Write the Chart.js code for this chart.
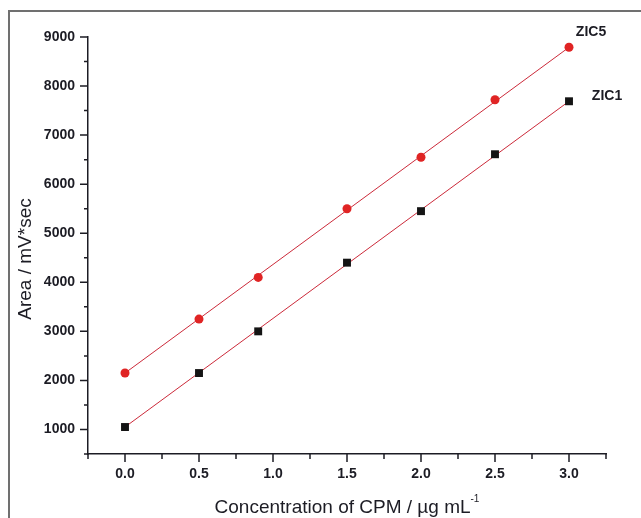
<!DOCTYPE html>
<html>
<head>
<meta charset="utf-8">
<script src="https://cdn.jsdelivr.net/npm/chart.js@4"></script>
<style>
  html, body { margin: 0; padding: 0; background: #fff; }
  #wrap { width: 641px; height: 518px; }
</style>
</head>
<body>
<div id="wrap"><canvas id="calib" width="641" height="518"></canvas></div>
<script>
// concentration levels (µg/mL) and peak areas
const concentrations = [0.0, 0.5, 0.9, 1.5, 2.0, 2.5, 3.0];
const areaZIC5 = [2150, 3250, 4100, 5500, 6550, 7720, 8790];
const areaZIC1 = [1050, 2150, 3000, 4400, 5450, 6610, 7690];

// regression line end points
const fitX = [0.0, 3.0];
const fitZIC5 = [2150, 8790];
const fitZIC1 = [1050, 7690];

// axis ticks
const xMajorTicks = [0.0, 0.5, 1.0, 1.5, 2.0, 2.5, 3.0];
const xMinorTicks = [-0.25, 0.25, 0.75, 1.25, 1.75, 2.25, 2.75, 3.25];
const yMajorTicks = [1000, 2000, 3000, 4000, 5000, 6000, 7000, 8000, 9000];
const yMinorTicks = [500, 1500, 2500, 3500, 4500, 5500, 6500, 7500, 8500];

const fontFamily = "'Liberation Sans', Arial, sans-serif";
const inkColor = "#1c1c24";
const fitColor = "#cc2a3a";

const toPoints = (xs, ys) => xs.map((x, i) => ({ x, y: ys[i] }));

// frame, tick marks, axis titles and series names
const decorations = {
  id: "decorations",
  beforeDraw(chart) {
    const ctx = chart.ctx;
    ctx.save();
    ctx.fillStyle = "#fff";
    ctx.fillRect(0, 0, chart.width, chart.height);
    ctx.strokeStyle = "#707070";
    ctx.lineWidth = 2;
    ctx.beginPath();
    ctx.moveTo(9, chart.height + 5);
    ctx.lineTo(9, 11);
    ctx.lineTo(chart.width + 5, 11);
    ctx.stroke();
    ctx.restore();
  },
  afterDraw(chart) {
    const ctx = chart.ctx;
    const xs = chart.scales.x;
    const ys = chart.scales.y;
    const area = chart.chartArea;
    ctx.save();
    ctx.strokeStyle = inkColor;
    ctx.lineWidth = 1.5;
    ctx.beginPath();
    for (const v of xMajorTicks) {
      const px = xs.getPixelForValue(v);
      ctx.moveTo(px, area.bottom);
      ctx.lineTo(px, area.bottom + 8);
    }
    for (const v of xMinorTicks) {
      const px = xs.getPixelForValue(v);
      ctx.moveTo(px, area.bottom);
      ctx.lineTo(px, area.bottom + 5);
    }
    for (const v of yMajorTicks) {
      const py = ys.getPixelForValue(v);
      ctx.moveTo(area.left, py);
      ctx.lineTo(area.left - 8, py);
    }
    for (const v of yMinorTicks) {
      const py = ys.getPixelForValue(v);
      ctx.moveTo(area.left, py);
      ctx.lineTo(area.left - 4, py);
    }
    ctx.stroke();

    // axis titles
    ctx.fillStyle = inkColor;
    ctx.font = "19px " + fontFamily;
    ctx.textBaseline = "middle";
    const xTitle = "Concentration of CPM / \u00b5g mL";
    const wMain = ctx.measureText(xTitle).width;
    ctx.font = "10px " + fontFamily;
    const wSup = ctx.measureText("-1").width;
    const startX = (area.left + area.right) / 2 - (wMain + wSup) / 2;
    ctx.font = "19px " + fontFamily;
    ctx.textAlign = "left";
    ctx.fillText(xTitle, startX, 508);
    ctx.font = "10px " + fontFamily;
    ctx.fillText("-1", startX + wMain, 499);

    ctx.save();
    ctx.translate(26, 259);
    ctx.rotate(-Math.PI / 2);
    ctx.font = "19px " + fontFamily;
    ctx.textAlign = "center";
    ctx.fillText("Area / mV*sec", 0, 0);
    ctx.restore();

    // series names beside the last points
    const lastX = xs.getPixelForValue(concentrations[concentrations.length - 1]);
    ctx.font = "bold 14px " + fontFamily;
    ctx.textAlign = "center";
    ctx.fillText("ZIC5", lastX + 22, ys.getPixelForValue(areaZIC5[areaZIC5.length - 1]) - 15);
    ctx.fillText("ZIC1", lastX + 38, ys.getPixelForValue(areaZIC1[areaZIC1.length - 1]) - 5);
    ctx.restore();
  }
};

new Chart(document.getElementById("calib"), {
  type: "scatter",
  data: {
    datasets: [
      {
        label: "ZIC5",
        data: toPoints(concentrations, areaZIC5),
        pointStyle: "circle",
        pointRadius: 4.5,
        backgroundColor: "#e02424",
        borderColor: "#e02424",
        borderWidth: 0,
        order: 0
      },
      {
        label: "ZIC1",
        data: toPoints(concentrations, areaZIC1),
        pointStyle: "rect",
        pointRadius: 5.6,
        backgroundColor: "#141414",
        borderColor: "#141414",
        borderWidth: 0,
        order: 0
      },
      {
        label: "ZIC5 fit",
        data: toPoints(fitX, fitZIC5),
        showLine: true,
        pointRadius: 0,
        borderColor: fitColor,
        borderWidth: 1,
        order: 1
      },
      {
        label: "ZIC1 fit",
        data: toPoints(fitX, fitZIC1),
        showLine: true,
        pointRadius: 0,
        borderColor: fitColor,
        borderWidth: 1,
        order: 1
      }
    ]
  },
  options: {
    responsive: false,
    animation: false,
    layout: { padding: { top: 37, right: 35, left: 0, bottom: 0 } },
    plugins: { legend: { display: false }, tooltip: { enabled: false } },
    scales: {
      x: {
        type: "linear",
        min: -0.25,
        max: 3.25,
        afterFit(scale) { scale.height = 64; },
        afterBuildTicks(scale) { scale.ticks = xMajorTicks.map((v) => ({ value: v })); },
        grid: { display: false, drawTicks: false },
        border: { display: true, color: inkColor, width: 1.5 },
        ticks: {
          padding: 12,
          color: inkColor,
          font: { family: fontFamily, size: 14, weight: "bold" },
          callback: (v) => v.toFixed(1)
        }
      },
      y: {
        type: "linear",
        min: 500,
        max: 9000,
        afterFit(scale) { scale.width = 88; },
        afterBuildTicks(scale) { scale.ticks = yMajorTicks.map((v) => ({ value: v })); },
        grid: { display: false, drawTicks: false },
        border: { display: true, color: inkColor, width: 1.5 },
        ticks: {
          padding: 13,
          color: inkColor,
          font: { family: fontFamily, size: 14, weight: "bold" },
          callback: (v) => String(v)
        }
      }
    }
  },
  plugins: [decorations]
});
</script>
</body>
</html>
